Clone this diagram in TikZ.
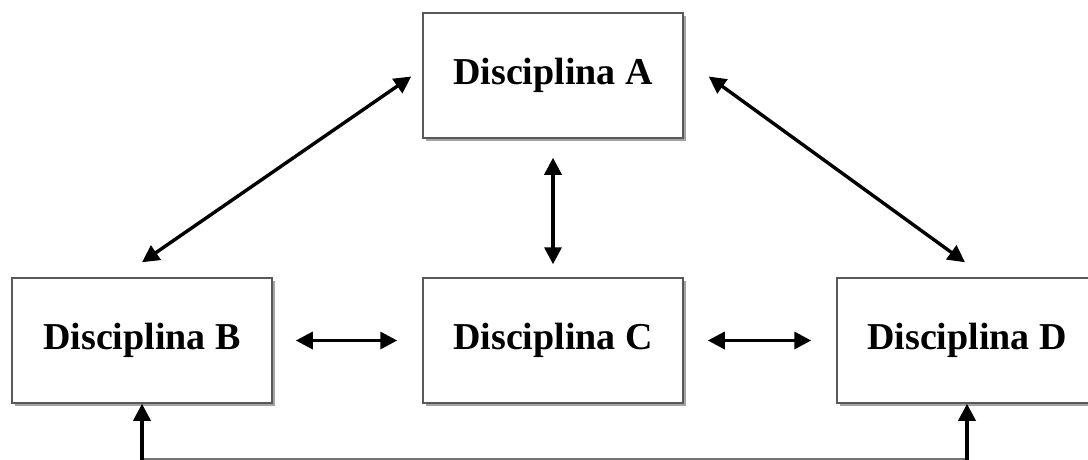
\documentclass[tikz,border=0pt]{standalone}
\usepackage{fontspec}
\setmainfont{Liberation Serif}
\usetikzlibrary{arrows.meta,shadows}
\begin{document}
\begin{tikzpicture}[x=1pt,y=-1pt,
  box/.style={draw=black!65, line width=1.5pt, fill=white, rectangle,
    minimum width=260pt, minimum height=125pt, inner sep=0pt,
    font=\fontsize{38}{40}\selectfont\bfseries,
    drop shadow={shadow xshift=2.5pt, shadow yshift=-2.5pt, fill=black!45, opacity=0.8}},
  arr/.style={line width=3.4pt, {Triangle[length=17pt,width=17pt]}-{Triangle[length=17pt,width=17pt]}},
  uparr/.style={line width=3.4pt, -{Triangle[length=17pt,width=17pt]}},
  base/.style={line width=3pt, draw=black!55}]
\useasboundingbox (0,0) rectangle (1088,459);
\begin{scope}
\clip (0,0) rectangle (1088,459);
\node[box] (A) at (553,75.5) {Disciplina A};
\node[box] (B) at (142,340.5) {Disciplina B};
\node[box] (C) at (553,340.5) {Disciplina C};
\node[box] (D) at (967,340.5) {Disciplina D};
\draw[arr] ([yshift=15pt]B.north) -- ([xshift=-11pt,yshift=-1pt]A.west);
\draw[arr] ([xshift=25pt,yshift=-1pt]A.east) -- ([xshift=-2pt,yshift=15pt]D.north);
\draw[arr] ([yshift=-19pt]A.south) -- ([yshift=13pt]C.north);
\draw[arr] ([xshift=23pt]B.east) -- ([xshift=-25pt]C.west);
\draw[arr] ([xshift=24pt]C.east) -- ([xshift=-25pt]D.west);
\coordinate (bl) at (142,459.5);
\coordinate (br) at (967,459.5);
\draw[base] (bl) -- (br);
\draw[uparr] (bl) -- (B.south);
\draw[uparr] (br) -- (D.south);
\end{scope}
\end{tikzpicture}
\end{document}
